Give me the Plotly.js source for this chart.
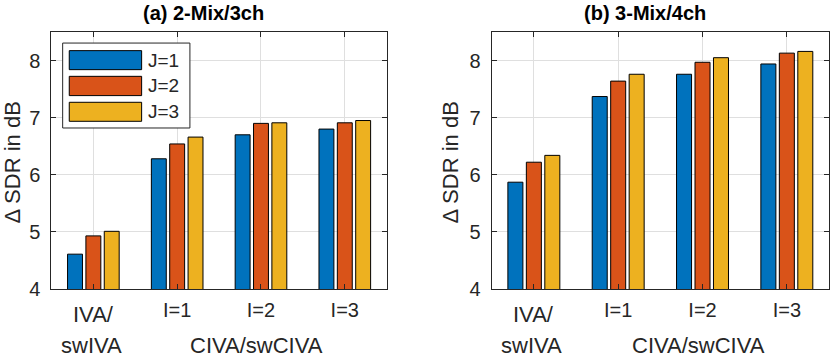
<!DOCTYPE html>
<html>
<head>
<meta charset="utf-8">
<script src="https://cdn.plot.ly/plotly-3.0.1.min.js"></script>
<style>
  body { margin: 0; background: #fff; }
  #chart { width: 830px; height: 358px; }
</style>
</head>
<body>
<div id="chart"></div>
<script>
// groups on the x axis, one bar per J inside each group
var groups = [1, 2, 3, 4];
var tick_labels = ['', 'I=1', 'I=2', 'I=3'];
var group_names = ['IVA/', 'swIVA', 'CIVA/swCIVA'];
var series_names = ['J=1', 'J=2', 'J=3'];

// (a) 2-Mix/3ch
var mix2_j1 = [4.61, 6.28, 6.70, 6.80];
var mix2_j2 = [4.93, 6.54, 6.90, 6.91];
var mix2_j3 = [5.01, 6.66, 6.91, 6.95];

// (b) 3-Mix/4ch
var mix3_j1 = [5.87, 7.37, 7.76, 7.94];
var mix3_j2 = [6.22, 7.64, 7.97, 8.13];
var mix3_j3 = [6.34, 7.76, 8.05, 8.16];

var colors = ['#0072BD', '#D95319', '#EDB120'];
var font_family = 'Liberation Sans, Arial, Helvetica, sans-serif';
var ink = '#262626';

function make_bar(values, k, xa, ya){
  return {
    x: groups,
    y: values,
    type: 'bar',
    name: series_names[k],
    xaxis: xa,
    yaxis: ya,
    showlegend: false,
    marker: {
      color: colors[k],
      line: {color: '#000000', width: 1}
    },
    hoverinfo: 'y'
  };
}

var data = [
  make_bar(mix2_j1, 0, 'x', 'y'),
  make_bar(mix2_j2, 1, 'x', 'y'),
  make_bar(mix2_j3, 2, 'x', 'y'),
  make_bar(mix3_j1, 0, 'x2', 'y2'),
  make_bar(mix3_j2, 1, 'x2', 'y2'),
  make_bar(mix3_j3, 2, 'x2', 'y2')
];

function x_axis(domain, anchor){
  return {
    domain: domain,
    anchor: anchor,
    range: [0.5, 4.5],
    tickvals: groups,
    ticktext: tick_labels,
    showgrid: true,
    gridcolor: '#dfdfdf',
    gridwidth: 1,
    zeroline: false,
    showline: true,
    linecolor: ink,
    linewidth: 1,
    mirror: 'ticks',
    ticks: 'inside',
    ticklen: 5,
    tickcolor: ink,
    ticklabelstandoff: 3,
    tickfont: {family: font_family, size: 20, color: ink},
    fixedrange: true
  };
}

function y_axis(anchor){
  return {
    anchor: anchor,
    domain: [0, 1],
    range: [4, 8.5],
    tickvals: [4, 5, 6, 7, 8],
    showgrid: true,
    gridcolor: '#dfdfdf',
    gridwidth: 1,
    zeroline: false,
    showline: true,
    linecolor: ink,
    linewidth: 1,
    mirror: 'ticks',
    ticks: 'inside',
    ticklen: 5,
    tickcolor: ink,
    ticklabelstandoff: 6,
    tickfont: {family: font_family, size: 20, color: ink},
    fixedrange: true
  };
}

var annotations = [];
var shapes = [];

function add_text(txt, x, y, xref, yref, opts){
  var a = {
    text: txt, x: x, y: y, xref: xref, yref: yref,
    showarrow: false,
    font: {family: font_family, size: 22, color: ink},
    xanchor: 'center', yanchor: 'middle'
  };
  for (var key in opts) { a[key] = opts[key]; }
  annotations.push(a);
}

// panel titles
var title_font = {family: font_family, size: 20, color: '#000'};
add_text('<b>(a) 2-Mix/3ch</b>', 203 / 830, 1 + 19 / 257, 'paper', 'paper', {font: title_font});
add_text('<b>(b) 3-Mix/4ch</b>', 645 / 830, 1 + 19 / 257, 'paper', 'paper', {font: title_font});

// y titles
add_text('\u0394 SDR in dB', 12 / 830, 1 - (162.5 - 32) / 257, 'paper', 'paper', {textangle: -90});
add_text('\u0394 SDR in dB', 450 / 830, 1 - (162.5 - 32) / 257, 'paper', 'paper', {textangle: -90});

// group names under the x ticks
var big_font = {family: font_family, size: 22, color: ink};
var line1 = -(314 - 289) / 257;
var line2 = -(345 - 289) / 257;
['x', 'x2'].forEach(function(xa){
  add_text(group_names[0], 1, line1, xa, 'paper', {font: big_font});
  add_text(group_names[1], 1, line2, xa, 'paper', {font: big_font, xshift: -2});
  add_text(group_names[2], 3, line2, xa, 'paper', {font: big_font, xshift: -4});
});

// legend drawn inside panel (a)
shapes.push({
  type: 'rect', xref: 'x domain', yref: 'y domain',
  x0: 0.0334, x1: 0.413, y0: 0.6265, y1: 0.957,
  fillcolor: '#ffffff', line: {color: ink, width: 1}, layer: 'above'
});
var rows = [[0.9275, 0.8535], [0.8275, 0.7525], [0.7265, 0.6525]];
for (var k = 0; k < series_names.length; k++) {
  shapes.push({
    type: 'rect', xref: 'x domain', yref: 'y domain',
    x0: 0.0531, x1: 0.269, y0: rows[k][1], y1: rows[k][0],
    fillcolor: colors[k], line: {color: '#000000', width: 1}, layer: 'above'
  });
  annotations.push({
    text: series_names[k], xref: 'x domain', yref: 'y domain',
    x: 0.283, y: (rows[k][0] + rows[k][1]) / 2,
    xanchor: 'left', yanchor: 'middle', showarrow: false,
    font: {family: font_family, size: 19, color: ink}
  });
}

var layout = {
  width: 830,
  height: 358,
  margin: {l: 0, r: 0, t: 32, b: 69, pad: 0},
  paper_bgcolor: '#ffffff',
  plot_bgcolor: '#ffffff',
  barmode: 'group',
  bargap: 0.343,
  bargroupgap: 0.187,
  showlegend: false,
  xaxis: x_axis([0.0620, 0.4659], 'y'),
  yaxis: y_axis('x'),
  xaxis2: x_axis([0.5924, 0.9988], 'y2'),
  yaxis2: y_axis('x2'),
  annotations: annotations,
  shapes: shapes
};

Plotly.newPlot('chart', data, layout, {displayModeBar: false, staticPlot: true});
</script>
</body>
</html>
